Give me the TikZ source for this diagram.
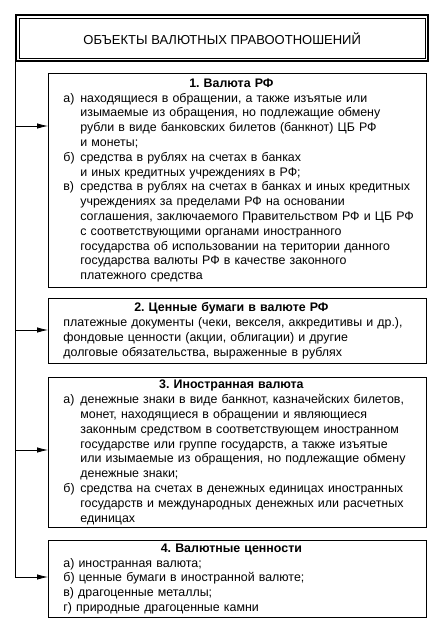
\documentclass[tikz,border=0pt]{standalone}
\usepackage{fontspec}
\setmainfont{Liberation Sans}
\usetikzlibrary{arrows.meta}
\frenchspacing
\newcommand\itm[2]{\par\noindent\hangindent=17pt\hangafter=1\makebox[17pt][l]{#1}#2}
\newcommand\hd[1]{\noindent\makebox[336pt][c]{\bfseries #1}\par}
\begin{document}
\begin{tikzpicture}[x=1pt,y=-1pt,
  box/.style={draw, line width=0.8pt, anchor=north west, minimum width=378pt,
    text width=378pt, inner xsep=0pt, inner ysep=0pt, align=left,
    font=\fontsize{12.4}{14.8}\selectfont\frenchspacing},
  conn/.style={line width=0.8pt},
  arr/.style={conn, -{Latex[length=11pt,width=5.5pt]}}]
\useasboundingbox[fill=white] (0,0) rectangle (440,625);

\node[draw, line width=2.4pt, anchor=north west, minimum width=412pt, minimum height=46pt,
  inner sep=0pt, font=\fontsize{13}{15}\selectfont] (t) at (15,14) {ОБЪЕКТЫ ВАЛЮТНЫХ ПРАВООТНОШЕНИЙ};
\draw[line width=0.7pt] ([shift={(4.5,4.5)}]t.north west) rectangle ([shift={(-4.5,-4.5)}]t.south east);

\node[box, minimum height=214pt] (b1) at (48,73) {\leftskip=15pt
\hd{1. Валюта РФ}
\itm{а)}{находящиеся в обращении, а также изъятые или\newline изымаемые из обращения, но подлежащие обмену\newline рубли в виде банковских билетов (банкнот) ЦБ РФ\newline и монеты;}
\itm{б)}{средства в рублях на счетах в банках\newline и иных кредитных учреждениях в РФ;}
\itm{в)}{средства в рублях на счетах в банках и иных кредитных\newline учреждениях за пределами РФ на основании\newline соглашения, заключаемого Правительством РФ и ЦБ РФ\newline с соответствующими органами иностранного\newline государства об использовании на територии данного\newline государства валюты РФ в качестве законного\newline платежного средства}\par};

\node[box, minimum height=65pt] (b2) at (48,298) {\leftskip=15pt
\hd{2. Ценные бумаги в валюте РФ}
\noindent платежные документы (чеки, векселя, аккредитивы и др.),\newline фондовые ценности (акции, облигации) и другие\newline долговые обязательства, выраженные в рублях\par};

\node[box, minimum height=150pt] (b3) at (48,377) {\leftskip=15pt
\hd{3. Иностранная валюта}
\itm{а)}{денежные знаки в виде банкнот, казначейских билетов,\newline монет, находящиеся в обращении и являющиеся\newline законным средством в соответствующем иностранном\newline государстве или группе государств, а также изъятые\newline или изымаемые из обращения, но подлежащие обмену\newline денежные знаки;}
\itm{б)}{средства на счетах в денежных единицах иностранных\newline государств и международных денежных или расчетных\newline единицах}\par};

\node[box, minimum height=77pt] (b4) at (48,540) {\leftskip=15pt
\hd{4. Валютные ценности}
\noindent а) иностранная валюта;\par
\noindent б) ценные бумаги в иностранной валюте;\par
\noindent в) драгоценные металлы;\par
\noindent г) природные драгоценные камни\par};

\coordinate (j1) at (15,126);
\coordinate (j2) at (15,330);
\coordinate (j3) at (15,450);
\coordinate (j4) at (15,577);
\draw[arr] (t.south west) -- (j4) -- (j4 -| b4.west);
\draw[arr] (j1) -- (j1 -| b1.west);
\draw[arr] (j2) -- (j2 -| b2.west);
\draw[arr] (j3) -- (j3 -| b3.west);
\end{tikzpicture}
\end{document}
